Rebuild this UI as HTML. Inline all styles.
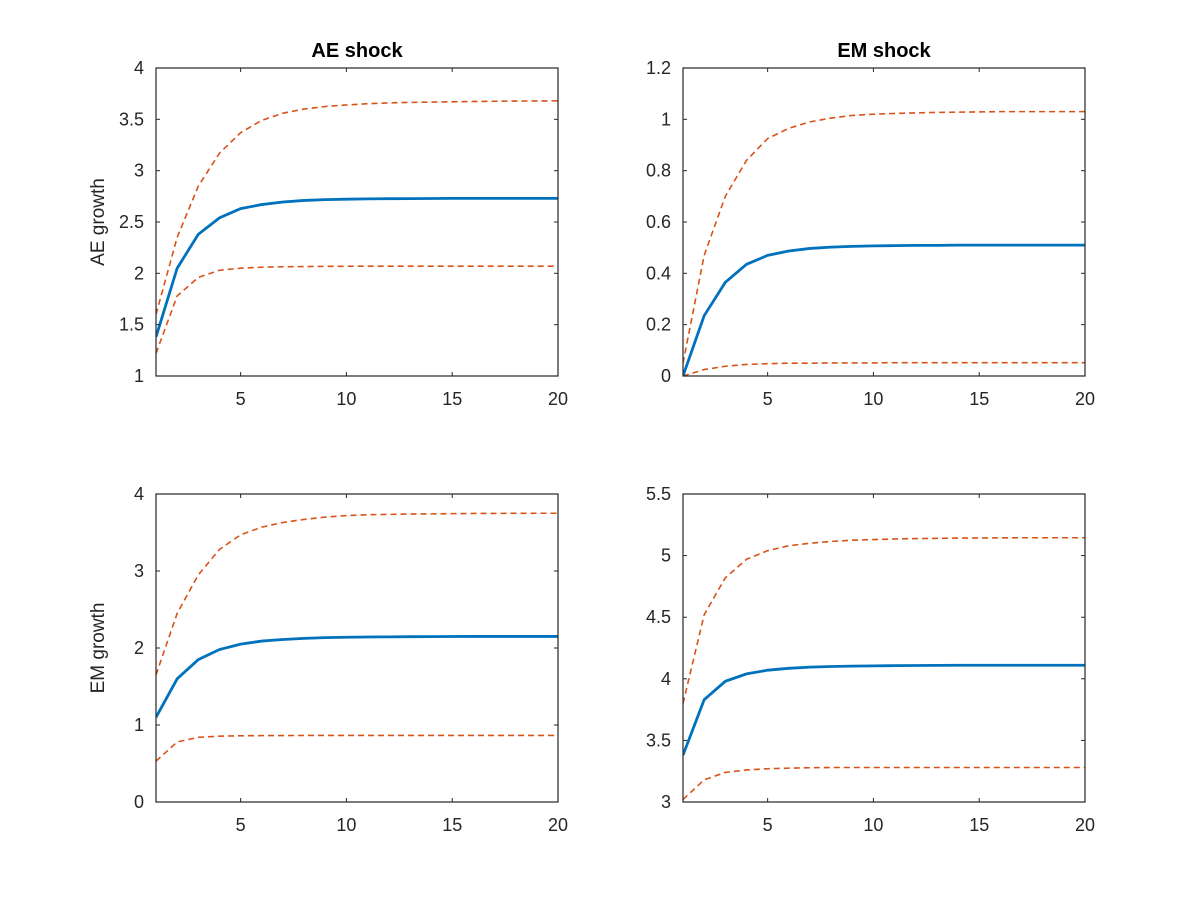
<!DOCTYPE html>
<html><head><meta charset="utf-8"><style>
html,body{margin:0;padding:0;background:#fff;}
svg{display:block;font-family:"Liberation Sans",Arial,sans-serif;}
</style></head><body>
<svg id="fig" width="1200" height="900" viewBox="0 0 1200 900"></svg>
<script>
const horizon = [1,2,3,4,5,6,7,8,9,10,11,12,13,14,15,16,17,18,19,20];
const xTicks = [5,10,15,20];

const aeAeMid = [1.38,2.05,2.38,2.54,2.63,2.67,2.695,2.71,2.718,2.722,2.725,2.727,2.728,2.729,2.73,2.73,2.73,2.73,2.73,2.73];
const aeAeUp  = [1.6,2.35,2.85,3.17,3.37,3.49,3.56,3.6,3.625,3.64,3.652,3.66,3.665,3.668,3.671,3.674,3.676,3.678,3.679,3.68];
const aeAeLo  = [1.22,1.78,1.96,2.03,2.05,2.06,2.064,2.066,2.068,2.069,2.07,2.07,2.07,2.07,2.07,2.07,2.07,2.07,2.07,2.07];

const emAeMid = [0.0,0.235,0.365,0.435,0.47,0.487,0.497,0.502,0.505,0.507,0.508,0.509,0.509,0.51,0.51,0.51,0.51,0.51,0.51,0.51];
const emAeUp  = [0.05,0.47,0.7,0.84,0.925,0.965,0.99,1.005,1.015,1.02,1.023,1.025,1.027,1.028,1.029,1.03,1.03,1.03,1.03,1.03];
const emAeLo  = [0.0,0.025,0.038,0.045,0.048,0.05,0.05,0.051,0.051,0.051,0.052,0.052,0.052,0.052,0.052,0.052,0.052,0.052,0.052,0.052];

const aeEmMid = [1.1,1.6,1.85,1.98,2.05,2.09,2.11,2.125,2.135,2.14,2.143,2.145,2.147,2.148,2.149,2.15,2.15,2.15,2.15,2.15];
const aeEmUp  = [1.65,2.45,2.95,3.28,3.47,3.57,3.63,3.67,3.7,3.72,3.73,3.735,3.74,3.742,3.745,3.747,3.748,3.749,3.75,3.75];
const aeEmLo  = [0.53,0.78,0.84,0.855,0.86,0.862,0.863,0.864,0.865,0.865,0.865,0.865,0.865,0.865,0.865,0.865,0.865,0.865,0.865,0.865];

const emEmMid = [3.38,3.83,3.98,4.04,4.07,4.085,4.095,4.1,4.103,4.105,4.107,4.108,4.109,4.11,4.11,4.11,4.11,4.11,4.11,4.11];
const emEmUp  = [3.8,4.52,4.82,4.97,5.04,5.08,5.1,5.115,5.125,5.13,5.135,5.138,5.14,5.142,5.143,5.144,5.145,5.145,5.145,5.145];
const emEmLo  = [3.02,3.18,3.24,3.26,3.27,3.275,3.278,3.28,3.28,3.28,3.28,3.28,3.28,3.28,3.28,3.28,3.28,3.28,3.28,3.28];

const yTicksTL = ["1","1.5","2","2.5","3","3.5","4"];
const yTicksTR = ["0","0.2","0.4","0.6","0.8","1","1.2"];
const yTicksBL = ["0","1","2","3","4"];
const yTicksBR = ["3","3.5","4","4.5","5","5.5"];

const NS = "http://www.w3.org/2000/svg";
const svg = document.getElementById("fig");
function mk(tag, attrs, parent){ const e=document.createElementNS(NS,tag); for(const k in attrs) e.setAttribute(k,attrs[k]); (parent||svg).appendChild(e); return e; }

const panels = [
 {name:"ae-growth-ae-shock", x0:156,x1:558,y0:68,y1:376, yt:yTicksTL, mid:aeAeMid, up:aeAeUp, lo:aeAeLo, title:"AE shock", ylabel:"AE growth"},
 {name:"ae-growth-em-shock", x0:683,x1:1085,y0:68,y1:376, yt:yTicksTR, mid:emAeMid, up:emAeUp, lo:emAeLo, title:"EM shock"},
 {name:"em-growth-ae-shock", x0:156,x1:558,y0:494,y1:802, yt:yTicksBL, mid:aeEmMid, up:aeEmUp, lo:aeEmLo, ylabel:"EM growth"},
 {name:"em-growth-em-shock", x0:683,x1:1085,y0:494,y1:802, yt:yTicksBR, mid:emEmMid, up:emEmUp, lo:emEmLo}
];

panels.forEach(p=>{
  const g = mk("g",{});
  
  
  const ymin=parseFloat(p.yt[0]), ymax=parseFloat(p.yt[p.yt.length-1]);
  const sx = v => p.x0 + (v-1)/(19)*(p.x1-p.x0);
  const sy = v => p.y1 - (v-ymin)/(ymax-ymin)*(p.y1-p.y0);
  const clipId = "c"+p.name;
  const cp = mk("clipPath",{id:clipId},g);
  mk("rect",{x:p.x0,y:p.y0,width:p.x1-p.x0,height:p.y1-p.y0},cp);
  const lines = mk("g",{"clip-path":"url(#"+clipId+")"},g);
  const pts = arr => arr.map((v,i)=>sx(horizon[i]).toFixed(2)+","+sy(v).toFixed(2)).join(" ");
  const u = mk("polyline",{points:pts(p.up),fill:"none",stroke:"#d95319","stroke-width":1.6,"stroke-dasharray":"6,4"},lines);
  
  
  const l = mk("polyline",{points:pts(p.lo),fill:"none",stroke:"#d95319","stroke-width":1.6,"stroke-dasharray":"6,4"},lines);
  
  
  const m = mk("polyline",{points:pts(p.mid),fill:"none",stroke:"#0072bd","stroke-width":2.8},lines);
  
  
  const box = mk("rect",{x:p.x0,y:p.y0,width:p.x1-p.x0,height:p.y1-p.y0,fill:"none",stroke:"#262626","stroke-width":1.2},g);
  
  
  xTicks.forEach(t=>{
    const x=sx(t);
    mk("line",{x1:x,x2:x,y1:p.y1,y2:p.y1-4,stroke:"#262626","stroke-width":1},g);
    mk("line",{x1:x,x2:x,y1:p.y0,y2:p.y0+4,stroke:"#262626","stroke-width":1},g);
    const tx = mk("text",{x:x,y:p.y1+29,"text-anchor":"middle","font-size":18,fill:"#262626"},g);
    tx.textContent=t;
    
    
  });
  p.yt.forEach(t=>{
    const y=sy(parseFloat(t));
    mk("line",{x1:p.x0,x2:p.x0+4,y1:y,y2:y,stroke:"#262626","stroke-width":1},g);
    mk("line",{x1:p.x1,x2:p.x1-4,y1:y,y2:y,stroke:"#262626","stroke-width":1},g);
    const ty = mk("text",{x:p.x0-12,y:y+6,"text-anchor":"end","font-size":18,fill:"#262626"},g);
    ty.textContent=t;
    
    
  });
  if(p.title){
    const tt = mk("text",{x:(p.x0+p.x1)/2,y:p.y0-11,"text-anchor":"middle","font-size":20,"font-weight":"bold",fill:"#000"},g);
    tt.textContent=p.title;
    
    
  }
  if(p.ylabel){
    const cy=(p.y0+p.y1)/2;
    const yl = mk("text",{x:0,y:0,transform:"translate(104,"+cy+") rotate(-90)","text-anchor":"middle","font-size":19,fill:"#262626"},g);
    yl.textContent=p.ylabel;
    
    
  }
});
</script>
</body></html>
